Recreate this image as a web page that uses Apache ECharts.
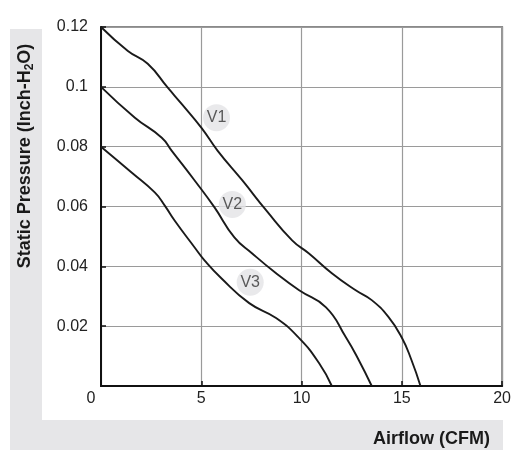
<!DOCTYPE html>
<html>
<head>
<meta charset="utf-8">
<script src="https://cdn.jsdelivr.net/npm/echarts@6/dist/echarts.min.js"></script>
<style>
html,body{margin:0;padding:0;background:#fff;}
#c{width:514px;height:459px;}
</style>
</head>
<body>
<div id="c"></div>
<script>
// Airflow (CFM) vs static pressure (inch-H2O)
var v1X = [0, 1.34, 2.33, 3.33, 4.02, 5.01, 5.81, 7.05, 8.24, 9.53, 10.37, 11.51, 12.70, 13.50, 14.34, 14.99, 15.48, 15.93];
var v1Y = [0.12, 0.112, 0.1077, 0.0997, 0.0943, 0.0863, 0.0787, 0.0687, 0.0587, 0.0487, 0.0443, 0.0377, 0.032, 0.0287, 0.023, 0.0163, 0.0087, 0];

var v2X = [0, 1.69, 3.03, 3.52, 4.67, 5.66, 6.65, 7.54, 8.73, 9.88, 11.22, 12.21, 12.85, 13.50];
var v2Y = [0.1, 0.0897, 0.083, 0.0787, 0.0687, 0.0597, 0.0497, 0.0443, 0.0377, 0.032, 0.0263, 0.0163, 0.0087, 0];

var v3X = [0, 1.54, 2.68, 3.18, 3.67, 4.67, 5.16, 6.0, 7.39, 8.73, 9.88, 10.87, 11.51];
var v3Y = [0.08, 0.0713, 0.0647, 0.0603, 0.0553, 0.0463, 0.042, 0.036, 0.0277, 0.0227, 0.016, 0.0077, 0];

var curveNames = ['V1', 'V2', 'V3'];
var tagX = [5.76, 6.55, 7.44];
var tagY = [0.0897, 0.0607, 0.0347];

var xTicks = [0, 5, 10, 15, 20];
var yTicks = [0, 0.02, 0.04, 0.06, 0.08, 0.1, 0.12];

var xTitle = 'Airflow (CFM)';
var yTitleMain = 'Static Pressure (Inch-H';
var yTitleSub = '2';
var yTitleEnd = 'O)';

function zip(xs, ys) { return xs.map(function (x, i) { return [x, ys[i]]; }); }

var FONT = '"Liberation Sans", Arial, sans-serif';
var chart = echarts.init(document.getElementById('c'), null, { renderer: 'canvas' });

function lineSeries(name, xs, ys) {
  return {
    name: name, type: 'line', data: zip(xs, ys), smooth: 0.5,
    symbol: 'none', z: 3,
    lineStyle: { color: '#1a1a1a', width: 1.9 }
  };
}

chart.setOption({
  animation: false,
  backgroundColor: '#fff',
  graphic: [
    { type: 'rect', z: -10, shape: { x: 10, y: 29, width: 32, height: 391 }, style: { fill: '#e6e6e8' } },
    { type: 'rect', z: -10, shape: { x: 10, y: 420, width: 493, height: 30 }, style: { fill: '#e6e6e8' } },
    {
      type: 'text', z: 10, x: 25, y: 156, rotation: Math.PI / 2,
      style: {
        text: '{m|' + yTitleMain + '}{s|' + yTitleSub + '}{m|' + yTitleEnd + '}',
        align: 'center', verticalAlign: 'middle',
        rich: {
          m: { fontFamily: FONT, fontSize: 18, fontWeight: 'bold', fill: '#1a1a1a', verticalAlign: 'middle', lineHeight: 22 },
          s: { fontFamily: FONT, fontSize: 12, fontWeight: 'bold', fill: '#1a1a1a', verticalAlign: 'bottom', padding: [8, 0, 0, 0], lineHeight: 22 }
        }
      }
    },
    {
      type: 'text', z: 10, x: 490, y: 439,
      style: {
        text: xTitle, align: 'right', verticalAlign: 'middle',
        fontFamily: FONT, fontSize: 18, fontWeight: 'bold', fill: '#1a1a1a'
      }
    }
  ],
  grid: {
    left: 101, top: 27, right: 10, bottom: 73,
    show: true, borderColor: '#8a8a8a', borderWidth: 2, backgroundColor: 'transparent'
  },
  xAxis: {
    type: 'value', min: xTicks[0], max: xTicks[xTicks.length - 1], interval: 5,
    axisLine: { show: true, onZero: false, lineStyle: { color: '#111', width: 2 } },
    axisTick: { show: true, inside: true, length: 5, lineStyle: { color: '#111', width: 1.5 } },
    splitLine: { show: true, lineStyle: { color: '#9a9a9a', width: 1.2 } },
    axisLabel: {
      margin: 5, fontFamily: FONT, fontSize: 16, color: '#222',
      formatter: function (v) { return v === 0 ? '{z|0}' : String(v); },
      rich: { z: { fontFamily: FONT, fontSize: 16, color: '#222', padding: [0, 20, 0, 0] } }
    }
  },
  yAxis: {
    type: 'value', min: yTicks[0], max: yTicks[yTicks.length - 1], interval: 0.02,
    axisLine: { show: true, onZero: false, lineStyle: { color: '#111', width: 2 } },
    axisTick: { show: true, inside: true, length: 5, lineStyle: { color: '#111', width: 1.5 } },
    splitLine: { show: true, lineStyle: { color: '#9a9a9a', width: 1.2 } },
    axisLabel: {
      margin: 13, fontFamily: FONT, fontSize: 16, color: '#222',
      formatter: function (v) { return v === 0 ? '' : String(parseFloat(v.toFixed(2))); }
    }
  },
  series: [
    lineSeries(curveNames[0], v1X, v1Y),
    lineSeries(curveNames[1], v2X, v2Y),
    lineSeries(curveNames[2], v3X, v3Y),
    {
      type: 'scatter', z: 5, symbol: 'circle', symbolSize: 27,
      data: tagX.map(function (x, i) { return { name: curveNames[i], value: [x, tagY[i]] }; }),
      itemStyle: { color: '#e4e4e6' },
      label: {
        show: true, position: 'inside', formatter: '{b}',
        fontFamily: FONT, fontSize: 16, color: '#333'
      }
    }
  ]
});
</script>
</body>
</html>
